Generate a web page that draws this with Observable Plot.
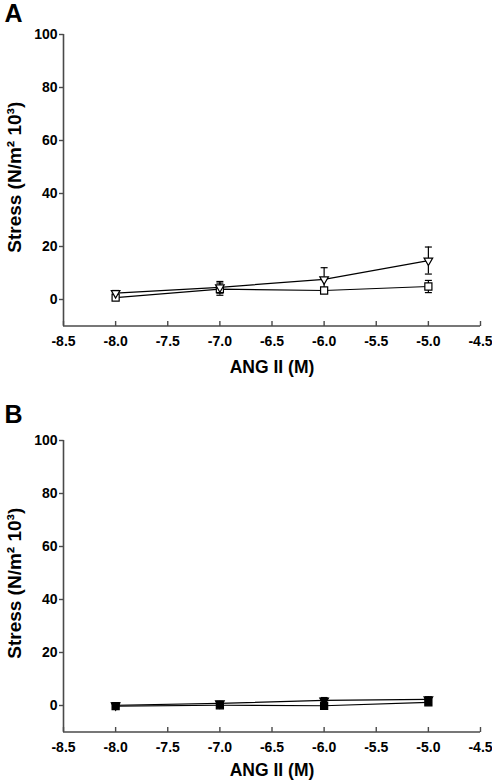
<!DOCTYPE html>
<html>
<head>
<meta charset="utf-8">
<script src="https://cdn.jsdelivr.net/npm/d3@7"></script>
<script src="https://cdn.jsdelivr.net/npm/@observablehq/plot@0.6"></script>
<style>
  body { margin: 0; background: #fff; }
  #chart svg { display: block; }
</style>
</head>
<body>
<div id="chart"></div>
<script>
// ---- data ----
const doses = [-8, -7, -6, -5];
const xTicks = [-8.5, -8.0, -7.5, -7.0, -6.5, -6.0, -5.5, -5.0, -4.5];
const yTicks = [0, 20, 40, 60, 80, 100];

const aTriMean = [2.4, 4.6, 7.6, 14.7];
const aTriSem  = [1.0, 2.2, 4.4, 5.1];
const aSqMean  = [0.7, 3.9, 3.4, 4.9];
const aSqSem   = [0.8, 2.3, 1.0, 2.3];

const bTriMean = [0.1, 0.8, 1.9, 2.3];
const bTriSem  = [0.6, 0.8, 1.1, 1.0];
const bSqMean  = [-0.2, 0.1, -0.1, 1.2];
const bSqSem   = [0.5, 0.6, 0.6, 0.8];

const xLabel = "ANG II (M)";
const yLabel = "Stress (N/m\u00B2 10\u00B3)";

const FONT = "Liberation Sans, Arial, sans-serif";
const AXIS = "#4a4a4a";

// horizontal cap for error bars, and short axis ticks
const capSymbol = {draw(ctx) { ctx.moveTo(-3.5, 0); ctx.lineTo(3.5, 0); }};
const yTickSymbol = {draw(ctx) { ctx.moveTo(-4.5, 0); ctx.lineTo(0, 0); }};
const xTickSymbol = {draw(ctx) { ctx.moveTo(0, 0); ctx.lineTo(0, -5); }};

function rows(means, sems) {
  return doses.map((x, i) => ({x, y: means[i], lo: means[i] - sems[i], hi: means[i] + sems[i]}));
}

function panel(letter, tri, triSem, sq, sqSem, filled, marginTop, marginBottom, letterDy, labelDy, tickDy) {
  const T = rows(tri, triSem);
  const S = rows(sq, sqSem);
  const fill = filled ? "black" : "white";
  const errMarks = (D) => [
    Plot.ruleX(D, {x: "x", y1: "lo", y2: "hi", stroke: "black", strokeWidth: 1.2}),
    Plot.dot(D, {x: "x", y: "lo", symbol: capSymbol, r: 3, stroke: "black", strokeWidth: 1.2}),
    Plot.dot(D, {x: "x", y: "hi", symbol: capSymbol, r: 3, stroke: "black", strokeWidth: 1.2})
  ];
  const txt = {fill: "black", fontWeight: "bold"};
  return Plot.plot({
    width: 492, height: 390,
    marginLeft: 63, marginRight: 12, marginTop, marginBottom,
    style: {fontFamily: FONT, background: "white"},
    x: {domain: [-8.5, -4.5], axis: null},
    y: {domain: [-10, 100], axis: null},
    marks: [
      // axis lines
      Plot.ruleY([-10], {x1: -8.5, x2: -4.5, stroke: AXIS, strokeWidth: 1.6}),
      Plot.ruleX([-8.5], {y1: -10, y2: 100, stroke: AXIS, strokeWidth: 1.6}),
      // ticks
      Plot.dot(xTicks, {x: d => d, y: () => -10, symbol: xTickSymbol, r: 3, stroke: AXIS, strokeWidth: 1.4}),
      Plot.dot(yTicks, {x: () => -8.5, y: d => d, symbol: yTickSymbol, r: 3, stroke: AXIS, strokeWidth: 1.4}),
      // tick labels
      Plot.text(xTicks, {x: d => d, frameAnchor: "bottom", dy: tickDy, text: d => d.toFixed(1),
        textAnchor: "middle", lineAnchor: "middle", fontSize: 14, ...txt}),
      Plot.text(yTicks, {y: d => d, frameAnchor: "left", dx: -6, text: d => String(d),
        textAnchor: "end", lineAnchor: "middle", fontSize: 14, ...txt}),
      // axis titles
      Plot.text([xLabel], {frameAnchor: "bottom", dy: labelDy, textAnchor: "middle", lineAnchor: "middle", fontSize: 17.5, ...txt}),
      Plot.text([yLabel], {frameAnchor: "left", dx: -49, dy: -3, rotate: -90, textAnchor: "middle", lineAnchor: "middle", fontSize: 19, ...txt}),
      // panel letter
      Plot.text([letter], {frameAnchor: "top-left", dx: -50, dy: letterDy, textAnchor: "middle", lineAnchor: "middle", fontSize: 25, ...txt}),
      // data
      Plot.line(S, {x: "x", y: "y", stroke: "black", strokeWidth: 1.2}),
      Plot.line(T, {x: "x", y: "y", stroke: "black", strokeWidth: 1.2}),
      ...errMarks(S),
      ...errMarks(T),
      Plot.dot(S, {x: "x", y: "y", symbol: "square", r: 4, fill, stroke: "black", strokeWidth: 1.2}),
      Plot.dot(T, {x: "x", y: "y", symbol: "triangle", rotate: 180, r: 3.2, fill, stroke: "black", strokeWidth: 1.2})
    ]
  });
}

const root = document.getElementById("chart");
root.appendChild(panel("A", aTriMean, aTriSem, aSqMean, aSqSem, false, 34, 64.5, -21, 41, 16));
root.appendChild(panel("B", bTriMean, bTriSem, bSqMean, bSqSem, true, 50, 48.5, -26, 38.5, 15.5));
</script>
</body>
</html>
